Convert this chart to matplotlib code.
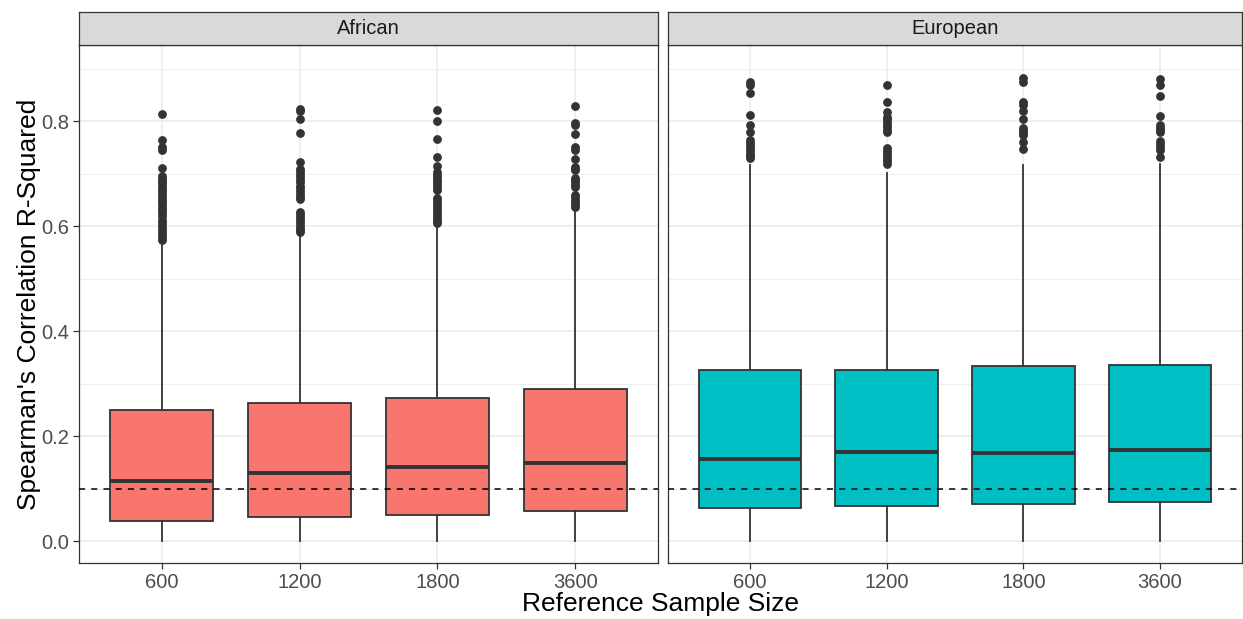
import matplotlib
matplotlib.use("Agg")
from matplotlib import pyplot as plt
from matplotlib.patches import Rectangle

plt.rcParams['font.family'] = ['Liberation Sans', 'DejaVu Sans']

sizes = ["600", "1200", "1800", "3600"]
panels = ["African", "European"]
fills = {"African": "#F8766D", "European": "#00BFC4"}

# box summary per panel: q1, median, q3, whisker low, whisker high
q1 = {"African": [0.0375, 0.0463, 0.0495, 0.0578],
      "European": [0.0624, 0.0675, 0.0713, 0.0745]}
med = {"African": [0.1149, 0.1289, 0.1416, 0.1492],
       "European": [0.1567, 0.1694, 0.1680, 0.1726]}
q3 = {"African": [0.2495, 0.2635, 0.2730, 0.2895],
      "European": [0.3248, 0.3260, 0.3338, 0.3350]}
wlo = {"African": [0.0, 0.0, 0.0, 0.0],
       "European": [0.0, 0.0, 0.0, 0.0]}
whi = {"African": [0.572, 0.585, 0.604, 0.636],
       "European": [0.716, 0.701, 0.716, 0.719]}

# outliers
out_af = [
    [0.814, 0.764, 0.751, 0.745, 0.711, 0.695, 0.690, 0.686, 0.681, 0.676, 0.671,
     0.666, 0.661, 0.655, 0.650, 0.645, 0.640, 0.635, 0.630, 0.624, 0.619, 0.612,
     0.606, 0.600, 0.594, 0.588, 0.582, 0.577, 0.573],
    [0.822, 0.819, 0.803, 0.777, 0.721, 0.709, 0.704, 0.699, 0.694, 0.688, 0.683,
     0.677, 0.672, 0.666, 0.661, 0.656, 0.652, 0.627, 0.622, 0.617, 0.612, 0.607,
     0.602, 0.597, 0.592, 0.588],
    [0.821, 0.800, 0.766, 0.732, 0.715, 0.703, 0.698, 0.693, 0.688, 0.683, 0.678,
     0.673, 0.668, 0.654, 0.649, 0.644, 0.639, 0.634, 0.629, 0.624, 0.619, 0.614,
     0.609, 0.605],
    [0.829, 0.796, 0.792, 0.776, 0.750, 0.745, 0.727, 0.712, 0.709, 0.706, 0.692,
     0.688, 0.684, 0.679, 0.675, 0.660, 0.655, 0.650, 0.645, 0.640, 0.637],
]
out_eu = [
    [0.874, 0.868, 0.853, 0.811, 0.792, 0.779, 0.763, 0.758, 0.753, 0.748, 0.743,
     0.738, 0.733, 0.729],
    [0.868, 0.837, 0.817, 0.808, 0.803, 0.798, 0.793, 0.788, 0.783, 0.779, 0.748,
     0.743, 0.738, 0.733, 0.728, 0.724, 0.719],
    [0.882, 0.874, 0.836, 0.830, 0.820, 0.804, 0.787, 0.782, 0.777, 0.773, 0.760,
     0.746],
    [0.880, 0.868, 0.848, 0.810, 0.792, 0.787, 0.783, 0.779, 0.761, 0.756, 0.750,
     0.744, 0.732],
]
outliers = {"African": out_af, "European": out_eu}

W, H = 1243, 619
fig = plt.figure(figsize=(W / 100, H / 100), dpi=100)

panel_px = {"African": (79, 658), "European": (668, 1242)}
top_px, bot_px, strip_top_px = 45, 563, 12
ink = "#333333"

for i, p in enumerate(panels):
    x0, x1 = panel_px[p]
    ax = fig.add_axes([x0 / W, (H - bot_px) / H, (x1 - x0) / W, (bot_px - top_px) / H])
    ax.set_facecolor("white")

    stats = []
    for k in range(len(sizes)):
        stats.append(dict(q1=q1[p][k], med=med[p][k], q3=q3[p][k],
                          whislo=wlo[p][k], whishi=whi[p][k],
                          fliers=outliers[p][k], label=sizes[k]))
    ax.bxp(stats, positions=[1, 2, 3, 4], widths=0.75, patch_artist=True,
           showcaps=False, zorder=3,
           boxprops=dict(facecolor=fills[p], edgecolor=ink, linewidth=1.3),
           medianprops=dict(color=ink, linewidth=2.8, solid_capstyle="butt"),
           whiskerprops=dict(color=ink, linewidth=1.3),
           flierprops=dict(marker="o", markerfacecolor=ink, markeredgecolor=ink,
                           markersize=5.3, linestyle="none"))

    ax.axhline(0.1, color="black", linestyle=(0, (4, 4)), linewidth=1.1, zorder=4)

    ax.set_xlim(0.4, 4.6)
    ax.set_ylim(-0.0419, 0.9448)
    ax.set_yticks([0.0, 0.2, 0.4, 0.6, 0.8])
    ax.set_yticks([0.1, 0.3, 0.5, 0.7, 0.9], minor=True)
    ax.set_xticks([1, 2, 3, 4])
    ax.set_xticklabels(sizes)
    ax.grid(True, which="major", color="#EBEBEB", linewidth=1.1, zorder=0)
    ax.grid(True, which="minor", axis="y", color="#EBEBEB", linewidth=0.6, zorder=0)
    ax.set_axisbelow(True)

    for s in ax.spines.values():
        s.set_color(ink)
        s.set_linewidth(0.9)

    ax.tick_params(axis="both", which="major", color=ink, length=4, width=0.9,
                   labelsize=14.5, labelcolor="#4D4D4D", pad=3)
    ax.tick_params(axis="y", which="minor", length=0)
    if i == 0:
        ax.set_yticklabels(["0.0", "0.2", "0.4", "0.6", "0.8"])
    else:
        ax.tick_params(axis="y", which="both", left=False, labelleft=False)

    # facet strip
    sax = fig.add_axes([x0 / W, (H - top_px) / H, (x1 - x0) / W, (top_px - strip_top_px) / H])
    sax.set_xlim(0, 1)
    sax.set_ylim(0, 1)
    sax.add_patch(Rectangle((0, 0), 1, 1, facecolor="#D9D9D9", edgecolor="none"))
    for s in sax.spines.values():
        s.set_color(ink)
        s.set_linewidth(0.9)
    sax.set_xticks([])
    sax.set_yticks([])
    sax.text(0.5, 0.5, p, ha="center", va="center", fontsize=14.5, color="#1A1A1A")

fig.text((79 + 1242) / 2 / W, 8 / H, "Reference Sample Size", ha="center", va="baseline",
         fontsize=19, color="black")
fig.text(29 / W, (H - 304) / H, "Spearman's Correlation R-Squared", ha="center",
         va="center", rotation=90, fontsize=19, color="black")

fig.savefig("out.png", dpi=100, facecolor="white")
